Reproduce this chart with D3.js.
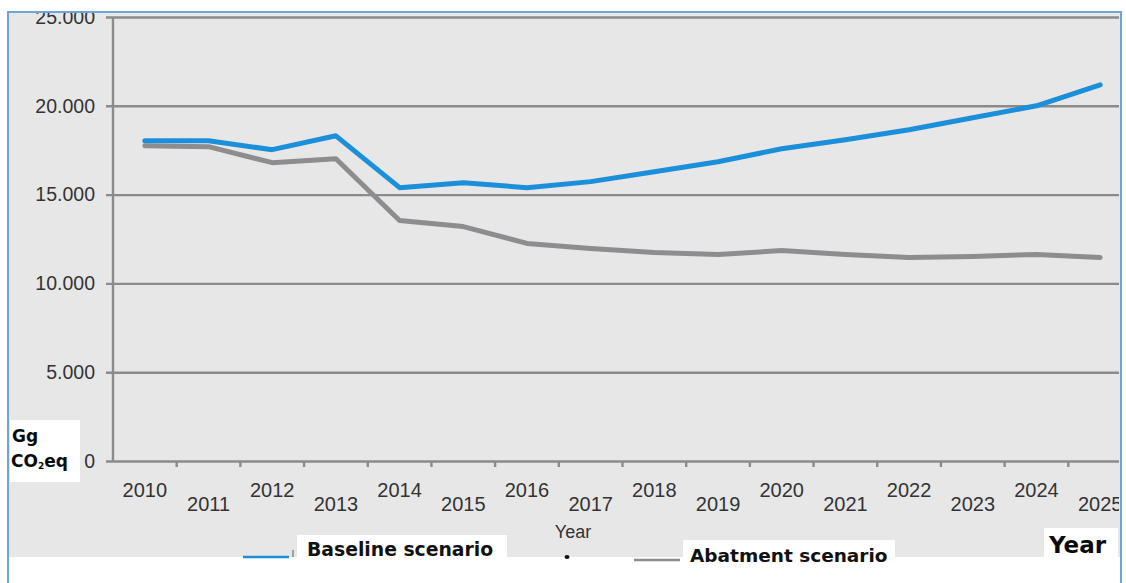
<!DOCTYPE html>
<html>
<head>
<meta charset="utf-8">
<script src="https://cdn.jsdelivr.net/npm/d3@7"></script>
<style>
  html, body { margin: 0; padding: 0; background: #ffffff; }
  svg { display: block; }
</style>
</head>
<body>
<svg id="chart" width="1126" height="583"></svg>
<script>
// Emission scenarios, Gg CO2eq per year
const years = ["2010","2011","2012","2013","2014","2015","2016","2017",
               "2018","2019","2020","2021","2022","2023","2024","2025"];
const baseline = [18030, 18030, 17530, 18310, 15390, 15670, 15390, 15730,
                  16290, 16850, 17580, 18090, 18650, 19330, 20000, 21180];
const abatement = [17750, 17700, 16800, 17020, 13540, 13200, 12250, 11970,
                   11740, 11630, 11850, 11630, 11460, 11520, 11630, 11460];
const yTicks = [0, 5000, 10000, 15000, 20000, 25000];
const seriesNames = ["Baseline scenario", "Abatment scenario"];

const svg = d3.select("#chart");
const blue = "#1c8fda";
const grey = "#8d8d8f";
const gridCol = "#8b8b8d";
const textCol = "#333333";

// panel
const panel = { x: 9, y: 13, w: 1111, h: 544 };
svg.append("rect")
  .attr("x", panel.x).attr("y", panel.y)
  .attr("width", panel.w).attr("height", panel.h)
  .attr("fill", "#e7e7e8");

svg.append("defs").append("clipPath").attr("id", "panelClip")
  .append("rect")
  .attr("x", panel.x).attr("y", panel.y)
  .attr("width", panel.w - 1).attr("height", panel.h);

const g = svg.append("g").attr("clip-path", "url(#panelClip)");

const x = d3.scaleBand().domain(years).range([113, 1132]).padding(0);
const y = d3.scaleLinear().domain([0, 25000]).range([461, 17]);

const fmt = v => v === 0 ? "0" : d3.format(",")(v).replace(/,/g, ".");

// horizontal gridlines with left ticks
g.append("g")
  .attr("transform", "translate(113,0)")
  .call(d3.axisLeft(y).tickValues(yTicks).tickSize(-1010).tickSizeOuter(0).tickPadding(18).tickFormat(fmt))
  .call(a => a.select(".domain").remove())
  .call(a => a.selectAll(".tick line")
      .attr("x1", -7).attr("stroke", gridCol).attr("stroke-width", 2.4))
  .call(a => a.selectAll(".tick text")
      .attr("fill", textCol)
      .attr("font-family", "Liberation Sans, Arial, sans-serif")
      .attr("font-size", 19.5));

// vertical axis line
g.append("line")
  .attr("x1", 113).attr("x2", 113)
  .attr("y1", y(25000)).attr("y2", y(0) + 1)
  .attr("stroke", gridCol).attr("stroke-width", 2.4);

// x axis with staggered labels
const xAxis = g.append("g")
  .attr("transform", `translate(0,${y(0)})`)
  .call(d3.axisBottom(x).tickSize(0).tickSizeOuter(0).tickFormat(d => d));
xAxis.select(".domain").remove();
xAxis.selectAll(".tick text")
  .attr("fill", textCol)
  .attr("font-family", "Liberation Sans, Arial, sans-serif")
  .attr("font-size", 20)
  .attr("dy", null)
  .attr("y", (d, i) => i % 2 === 0 ? 36 : 50);

// tick marks at category boundaries
g.append("g").selectAll("line")
  .data(years.slice(1))
  .join("line")
  .attr("x1", d => x(d)).attr("x2", d => x(d))
  .attr("y1", y(0)).attr("y2", y(0) + 6)
  .attr("stroke", gridCol).attr("stroke-width", 2.4);

// series lines
const line = d3.line()
  .x((d, i) => x(years[i]) + x.bandwidth() / 2)
  .y(d => y(d));

g.append("path")
  .datum(abatement)
  .attr("d", line)
  .attr("fill", "none")
  .attr("stroke", grey)
  .attr("stroke-width", 5)
  .attr("stroke-linejoin", "round")
  .attr("stroke-linecap", "round");

g.append("path")
  .datum(baseline)
  .attr("d", line)
  .attr("fill", "none")
  .attr("stroke", blue)
  .attr("stroke-width", 5)
  .attr("stroke-linejoin", "round")
  .attr("stroke-linecap", "round");

// small axis title under the labels
svg.append("text")
  .attr("x", 573).attr("y", 538)
  .attr("text-anchor", "middle")
  .attr("fill", textCol)
  .attr("font-family", "Liberation Sans, Arial, sans-serif")
  .attr("font-size", 18)
  .text("Year");
svg.append("ellipse")
  .attr("cx", 567).attr("cy", 557).attr("rx", 2.5).attr("ry", 2)
  .attr("fill", "#111");

// legend
svg.append("line")
  .attr("x1", 243).attr("x2", 289).attr("y1", 557).attr("y2", 557)
  .attr("stroke", blue).attr("stroke-width", 2.5);
svg.append("line")
  .attr("x1", 293).attr("x2", 293).attr("y1", 550).attr("y2", 557)
  .attr("stroke", "#555").attr("stroke-width", 1);
svg.append("rect")
  .attr("x", 297).attr("y", 535).attr("width", 210).attr("height", 24)
  .attr("fill", "#ffffff");
svg.append("text")
  .attr("x", 307).attr("y", 556)
  .attr("fill", "#111")
  .attr("font-family", "DejaVu Sans, Verdana, sans-serif")
  .attr("font-weight", "bold")
  .attr("font-size", 18.8)
  .text(seriesNames[0]);

svg.append("line")
  .attr("x1", 634).attr("x2", 680).attr("y1", 560).attr("y2", 560)
  .attr("stroke", grey).attr("stroke-width", 2.5);
svg.append("rect")
  .attr("x", 683).attr("y", 540).attr("width", 212).attr("height", 24)
  .attr("fill", "#ffffff");
svg.append("text")
  .attr("x", 690).attr("y", 562)
  .attr("fill", "#111")
  .attr("font-family", "DejaVu Sans, Verdana, sans-serif")
  .attr("font-weight", "bold")
  .attr("font-size", 18.5)
  .text(seriesNames[1]);

// axis captions in white boxes
svg.append("rect")
  .attr("x", 1044).attr("y", 528).attr("width", 74).attr("height", 31)
  .attr("fill", "#ffffff");
svg.append("text")
  .attr("x", 1049).attr("y", 553)
  .attr("fill", "#0a0a0a")
  .attr("font-family", "DejaVu Sans, Verdana, sans-serif")
  .attr("font-weight", "bold")
  .attr("font-size", 23)
  .text("Year");

svg.append("rect")
  .attr("x", 10).attr("y", 420).attr("width", 70).attr("height", 62)
  .attr("fill", "#ffffff");
const unit = svg.append("text")
  .attr("fill", "#0a0a0a")
  .attr("font-family", "DejaVu Sans, Verdana, sans-serif")
  .attr("font-weight", "bold")
  .attr("font-size", 17);
unit.append("tspan").attr("x", 12).attr("y", 442).text("Gg");
const l2 = unit.append("tspan").attr("x", 11).attr("y", 467).text("CO");
unit.append("tspan").attr("font-size", 9).attr("dy", 2).text("2");
unit.append("tspan").attr("dy", -2).text("eq");

// outer frame (left, top, right)
svg.append("path")
  .attr("d", "M8,583 V12 H1121 V583")
  .attr("fill", "none")
  .attr("stroke", "#6aa6dc")
  .attr("stroke-width", 2);
</script>
</body>
</html>
